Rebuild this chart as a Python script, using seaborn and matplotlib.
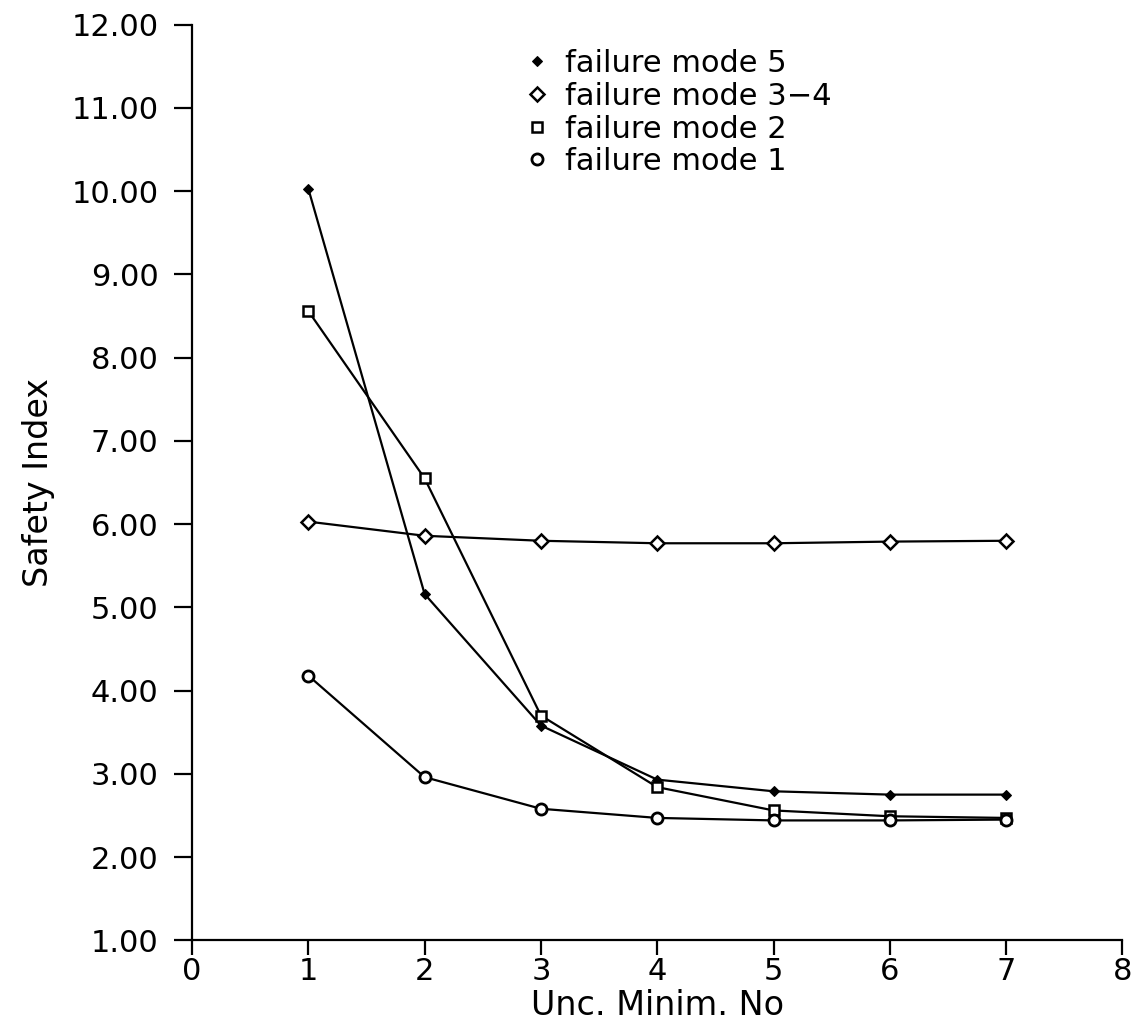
import matplotlib
matplotlib.use("Agg")
import matplotlib.pyplot as plt
import seaborn as sns
import pandas as pd

x_vals = [1, 2, 3, 4, 5, 6, 7]
mode5 = [10.03, 5.16, 3.58, 2.93, 2.79, 2.75, 2.75]
mode34 = [6.03, 5.86, 5.80, 5.77, 5.77, 5.79, 5.80]
mode2 = [8.56, 6.55, 3.70, 2.84, 2.56, 2.49, 2.47]
mode1 = [4.18, 2.96, 2.58, 2.47, 2.44, 2.44, 2.45]
labels = ["failure mode 5", "failure mode 3\u22124", "failure mode 2", "failure mode 1"]
x_ticks = [0, 1, 2, 3, 4, 5, 6, 7, 8]
y_ticks = [1, 2, 3, 4, 5, 6, 7, 8, 9, 10, 11, 12]

sns.set_theme(style="white")
plt.rcParams['font.family'] = ['DejaVu Sans']
plt.rcParams['text.color'] = 'black'
plt.rcParams['axes.labelcolor'] = 'black'

fig = plt.figure(figsize=(11.43, 10.31), dpi=100)
ax = fig.add_axes([0.168, 0.088, 0.814, 0.888])

series = [mode5, mode34, mode2, mode1]
styles = [
    dict(marker="D", markersize=5, mfc="black", mec="black"),
    dict(marker="D", markersize=7, mfc="white", mec="black", mew=1.8),
    dict(marker="s", markersize=7, mfc="white", mec="black", mew=1.8),
    dict(marker="o", markersize=8, mfc="white", mec="black", mew=2.0),
]
for vals, lab, st in zip(series, labels, styles):
    df = pd.DataFrame({"x": x_vals, "y": vals})
    sns.lineplot(data=df, x="x", y="y", ax=ax, color="black", linewidth=1.6,
                 label=lab, **st)

ax.set_xlim(0, 8)
ax.set_ylim(1, 12)
ax.set_xticks(x_ticks)
ax.set_xticklabels([str(t) for t in x_ticks])
ax.set_yticks(y_ticks)
ax.set_yticklabels([f"{t:.2f}" for t in y_ticks])
ax.set_xlabel("Unc. Minim. No", fontsize=24, labelpad=2)
ax.set_ylabel("Safety Index", fontsize=24, labelpad=12)

for s in ["top", "right"]:
    ax.spines[s].set_visible(False)
for s in ["left", "bottom"]:
    ax.spines[s].set_color("black")
    ax.spines[s].set_linewidth(1.6)
ax.tick_params(axis="both", which="major", direction="out", width=1.6,
               colors="black", labelsize=22, left=True, bottom=True)
ax.tick_params(axis="x", length=11, pad=1)
ax.tick_params(axis="y", length=13, pad=11)

leg = ax.legend(loc="upper left", bbox_to_anchor=(0.345, 0.99), frameon=False,
                fontsize=22, handlelength=0.6, handletextpad=0.6, labelspacing=0.12,
                borderpad=0)
for h in leg.get_lines():
    h.set_linestyle("None")
for t in leg.get_texts():
    t.set_color("black")

fig.savefig("out.png", dpi=100, facecolor="white")
